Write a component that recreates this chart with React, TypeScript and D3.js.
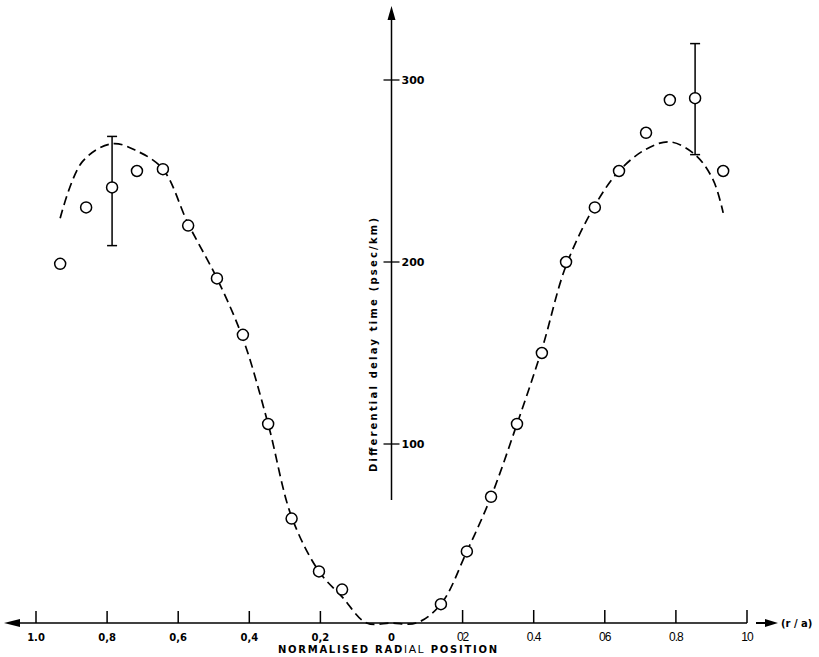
import React from "react";
import * as d3 from "d3";

// measured points, r/a on each side of the centre
const leftR = [0.932, 0.859, 0.786, 0.716, 0.643, 0.572, 0.491, 0.418, 0.347, 0.281, 0.204, 0.139];
const leftDelay = [199, 230, 241, 250, 251, 220, 191, 160, 111, 59, 30, 20];
const rightR = [0.139, 0.212, 0.28, 0.353, 0.423, 0.491, 0.572, 0.64, 0.716, 0.783, 0.854, 0.933];
const rightDelay = [12, 41, 71, 111, 150, 200, 230, 250, 271, 289, 290, 250];

// error bars: [r (signed), low, high]
const errR = [-0.786, 0.854];
const errLow = [209, 259];
const errHigh = [269, 320];

// fitted profile (dashed), signed r
const fitR = [-0.932, -0.87, -0.786, -0.716, -0.643, -0.572, -0.491, -0.418, -0.347, -0.281, -0.204, -0.139, -0.07, 0.0, 0.07, 0.139, 0.212, 0.28, 0.353, 0.423, 0.491, 0.572, 0.64, 0.716, 0.783, 0.854, 0.905, 0.933];
const fitDelay = [224, 255, 265, 261, 251, 221, 191, 158, 111, 60, 30, 16, 0, 0, 0, 12, 41, 71, 111, 152, 198, 231, 250, 262, 266, 259, 245, 227];

const leftTicks = [1.0, 0.8, 0.6, 0.4, 0.2];
const leftTickLabels = ["1.0", "0,8", "0,6", "0,4", "0,2"];
const rightTicks = [0.2, 0.4, 0.6, 0.8, 1.0];
const rightTickLabels = ["02", "0.4", "06", "0.8", "10"];
const yTicks = [100, 200, 300];

const W = 819;
const H = 657;

export default function App() {
  const x = d3.scaleLinear().domain([-1, 1]).range([36, 747]);
  const y = d3.scaleLinear().domain([0, 300]).range([626, 80]);
  const x0 = x(0);
  const axisY = 623;

  const fit = fitR.map((r, i) => [r, fitDelay[i]] as [number, number]);
  const line = d3
    .line<[number, number]>()
    .x((d) => x(d[0]))
    .y((d) => Math.min(y(d[1]), axisY))
    .curve(d3.curveCatmullRom.alpha(0.5));

  const pts = [
    ...leftR.map((r, i) => ({ r: -r, v: leftDelay[i] })),
    ...rightR.map((r, i) => ({ r, v: rightDelay[i] })),
  ];

  const bold = "'DejaVu Sans', sans-serif";
  const thin = "'Liberation Sans', Arial, sans-serif";

  return (
    <svg width={W} height={H} style={{ position: "absolute", left: 0, top: 0, background: "#fff" }}>
      {/* vertical axis */}
      <line x1={x0} x2={x0} y1={16} y2={500} stroke="#000" strokeWidth={1.5} />
      <path d={`M${x0},6 L${x0 - 4},20 L${x0 + 4},20 Z`} fill="#000" />
      {yTicks.map((t) => (
        <g key={t}>
          <line x1={x0 - 8} x2={x0 + 8} y1={y(t)} y2={y(t)} stroke="#000" strokeWidth={1.3} />
          <text x={x0 + 10} y={y(t) + 4} fontFamily={bold} fontSize={11} fontWeight="bold">
            {t}
          </text>
        </g>
      ))}
      <text
        transform={`translate(${x0 - 15},345) rotate(-90)`}
        textAnchor="middle"
        fontFamily={bold}
        fontSize={10}
        fontWeight="bold"
        textLength={254}
        lengthAdjust="spacing"
      >
        Differential  delay  time  (psec/km)
      </text>

      {/* horizontal axis */}
      <line x1={16} x2={x(1)} y1={axisY} y2={axisY} stroke="#000" strokeWidth={1.6} />
      <path d={`M4,${axisY} L20,${axisY - 4} L20,${axisY + 4} Z`} fill="#000" />
      <line x1={756} x2={768} y1={axisY} y2={axisY} stroke="#000" strokeWidth={2} />
      <path d={`M778,${axisY} L765,${axisY - 4} L765,${axisY + 4} Z`} fill="#000" />
      <text x={781} y={axisY + 4} fontFamily={bold} fontSize={10} fontWeight="bold">
        (r / a)
      </text>
      {leftTicks.map((t, i) => (
        <g key={"l" + t}>
          <line x1={x(-t)} x2={x(-t)} y1={axisY} y2={axisY - 12} stroke="#000" strokeWidth={1.5} />
          <text x={x(-t)} y={641} textAnchor="middle" fontFamily={bold} fontSize={10} fontWeight="bold">
            {leftTickLabels[i]}
          </text>
        </g>
      ))}
      <text x={x0} y={641} textAnchor="middle" fontFamily={bold} fontSize={10} fontWeight="bold">
        0
      </text>
      {rightTicks.map((t, i) => (
        <g key={"r" + t}>
          <line x1={x(t)} x2={x(t)} y1={axisY} y2={axisY - 13} stroke="#000" strokeWidth={1.5} />
          <text x={x(t)} y={641} textAnchor="middle" fontFamily={thin} fontSize={12} letterSpacing={-1}>
            {rightTickLabels[i]}
          </text>
        </g>
      ))}
      <text x={278} y={653} fontFamily={bold} fontSize={10} fontWeight="bold" textLength={219} lengthAdjust="spacing">
        NORMALISED  RAD<tspan fontFamily={thin} fontWeight="normal" fontSize={11}>IAL</tspan>  POSITION
      </text>

      {/* fitted curve */}
      <path d={line(fit) ?? ""} fill="none" stroke="#000" strokeWidth={1.7} strokeDasharray="9 5" />

      {/* error bars */}
      {errR.map((r, i) => (
        <g key={"e" + i} stroke="#000" strokeWidth={1.5}>
          <line x1={x(r)} x2={x(r)} y1={y(errLow[i])} y2={y(errHigh[i])} />
          <line x1={x(r) - 5} x2={x(r) + 5} y1={y(errLow[i])} y2={y(errLow[i])} />
          <line x1={x(r) - 5} x2={x(r) + 5} y1={y(errHigh[i])} y2={y(errHigh[i])} />
        </g>
      ))}

      {/* measured points */}
      {pts.map((p, i) => (
        <circle key={i} cx={x(p.r)} cy={y(p.v)} r={5.5} fill="#fff" stroke="#000" strokeWidth={1.5} />
      ))}
    </svg>
  );
}
